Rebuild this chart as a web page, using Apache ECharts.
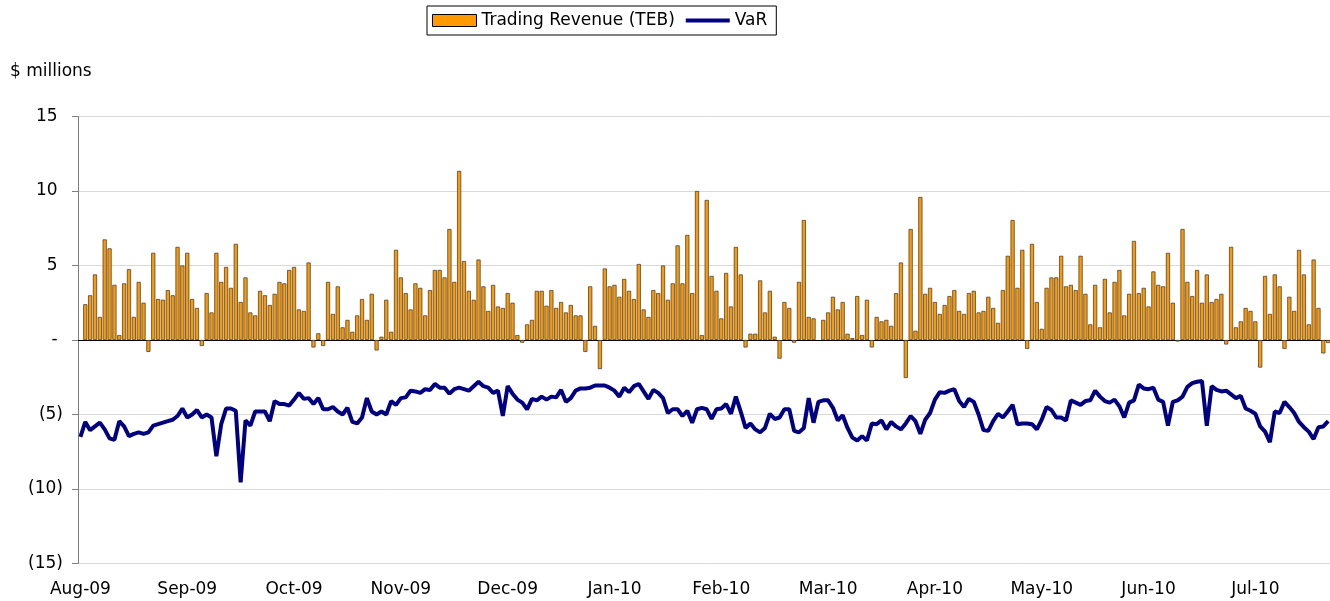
<!DOCTYPE html>
<html>
<head>
<meta charset="utf-8">
<title>Trading Revenue vs VaR</title>
<script src="https://cdn.jsdelivr.net/npm/echarts@6.0.0/dist/echarts.min.js"></script>
<style>
    html, body { margin: 0; padding: 0; background: #fff; }
    #chart { width: 1330px; height: 601px; }
</style>
</head>
<body>
<div id="chart"></div>
<script>
// month labels, one every 22 trading days
var monthLabels = ['Aug-09', 'Sep-09', 'Oct-09', 'Nov-09', 'Dec-09', 'Jan-10',
    'Feb-10', 'Mar-10', 'Apr-10', 'May-10', 'Jun-10', 'Jul-10'];

// daily trading revenue (TEB), $ millions
var revenue = [
    null, 2.4, 3.0, 4.4, 1.55, 6.75, 6.15, 3.7, 0.33, 3.8,
    4.75, 1.55, 3.9, 2.5, -0.8, 5.85, 2.75, 2.7, 3.35, 3.0,
    6.25, 5.0, 5.85, 2.75, 2.15, -0.4, 3.15, 1.85, 5.85, 3.9,
    4.9, 3.5, 6.45, 2.55, 4.2, 1.85, 1.65, 3.3, 3.0, 2.35,
    3.1, 3.9, 3.8, 4.7, 4.9, 2.05, 1.95, 5.2, -0.5, 0.45,
    -0.4, 3.9, 1.75, 3.6, 0.85, 1.35, 0.55, 1.65, 2.75, 1.35,
    3.1, -0.7, 0.22, 2.7, 0.55, 6.05, 4.2, 3.15, 2.05, 3.8,
    3.5, 1.65, 3.35, 4.7, 4.7, 4.2, 7.45, 3.9, 11.35, 5.3,
    3.3, 2.7, 5.4, 3.6, 1.95, 3.7, 2.25, 2.15, 3.15, 2.5,
    0.33, -0.18, 1.05, 1.35, 3.3, 3.3, 2.3, 3.35, 2.15, 2.55,
    1.85, 2.35, 1.65, 1.65, -0.8, 3.6, 0.95, -1.95, 4.8, 3.6,
    3.7, 2.9, 4.1, 3.3, 2.75, 5.1, 2.05, 1.55, 3.35, 3.15,
    5.0, 2.7, 3.8, 6.35, 3.8, 7.05, 3.15, 10.0, 0.33, 9.4,
    4.3, 3.3, 1.45, 4.5, 2.25, 6.25, 4.4, -0.5, 0.42, 0.42,
    4.0, 1.85, 3.3, 0.22, -1.25, 2.55, 2.15, -0.18, 3.9, 8.05,
    1.55, 1.45, null, 1.35, 1.85, 2.9, 2.05, 2.55, 0.42, 0.13,
    2.95, 0.33, 2.7, -0.5, 1.55, 1.25, 1.35, 0.95, 3.15, 5.2,
    -2.55, 7.45, 0.62, 9.6, 3.1, 3.5, 2.55, 1.75, 2.35, 2.95,
    3.35, 1.95, 1.75, 3.15, 3.3, 1.85, 1.95, 2.9, 2.15, 1.15,
    3.35, 5.65, 8.05, 3.5, 6.05, -0.6, 6.45, 2.55, 0.75, 3.5,
    4.2, 4.2, 5.65, 3.6, 3.7, 3.35, 5.65, 3.1, 1.05, 3.7,
    0.85, 4.1, 1.85, 3.9, 4.7, 1.65, 3.1, 6.65, 3.15, 3.5,
    2.25, 4.6, 3.7, 3.6, 5.85, 2.5, -0.1, 7.45, 3.9, 2.95,
    4.7, 2.5, 4.4, 2.55, 2.75, 3.1, -0.3, 6.25, 0.85, 1.25,
    2.15, 1.95, 1.25, -1.85, 4.3, 1.75, 4.4, 3.6, -0.6, 2.9,
    1.95, 6.05, 4.4, 1.05, 5.4, 2.15, -0.9, -0.2
];

// daily VaR, $ millions
var varValues = [
    -6.5, -5.5, -6.05, -5.8, -5.55, -6.0, -6.6, -6.7, -5.45, -5.8,
    -6.45, -6.3, -6.2, -6.3, -6.2, -5.75, -5.65, -5.55, -5.45, -5.35,
    -5.1, -4.6, -5.2, -5.0, -4.7, -5.2, -5.0, -5.2, -7.8, -5.65,
    -4.6, -4.6, -4.75, -9.55, -5.4, -5.75, -4.8, -4.8, -4.8, -5.45,
    -4.1, -4.3, -4.3, -4.4, -4.0, -3.55, -3.95, -3.9, -4.3, -3.9,
    -4.65, -4.65, -4.5, -4.8, -5.0, -4.55, -5.5, -5.6, -5.2, -3.9,
    -4.8, -5.0, -4.8, -5.0, -4.1, -4.35, -3.9, -3.85, -3.4, -3.45,
    -3.55, -3.3, -3.35, -2.95, -3.2, -3.2, -3.6, -3.3, -3.2, -3.3,
    -3.4, -3.1, -2.8, -3.1, -3.2, -3.55, -3.4, -5.1, -3.1, -3.6,
    -4.0, -4.2, -4.65, -3.95, -4.05, -3.8, -4.0, -3.8, -3.85, -3.35,
    -4.15, -3.9, -3.4, -3.25, -3.25, -3.2, -3.05, -3.05, -3.05, -3.2,
    -3.4, -3.8, -3.2, -3.5, -3.1, -2.95, -3.45, -3.95, -3.35, -3.55,
    -3.9, -4.9, -4.65, -4.65, -5.1, -4.75, -5.55, -4.65, -4.55, -4.65,
    -5.3, -4.65, -4.6, -4.3, -4.95, -3.8, -4.8, -5.9, -5.6, -6.0,
    -6.2, -5.9, -4.95, -5.3, -5.2, -4.65, -4.65, -6.1, -6.2, -5.9,
    -3.9, -5.55, -4.15, -4.05, -4.05, -4.55, -5.4, -5.05, -5.9, -6.55,
    -6.75, -6.45, -6.75, -5.6, -5.65, -5.4, -6.0, -5.5, -5.8, -6.0,
    -5.6, -5.1, -5.45, -6.3, -5.35, -4.9, -4.0, -3.5, -3.55, -3.4,
    -3.3, -4.1, -4.5, -3.95, -4.15, -5.0, -6.05, -6.1, -5.45, -4.95,
    -5.2, -4.8, -4.35, -5.65, -5.6, -5.6, -5.65, -6.0, -5.35, -4.5,
    -4.7, -5.2, -5.2, -5.4, -4.05, -4.2, -4.35, -4.1, -4.05, -3.4,
    -3.8, -4.1, -4.2, -4.0, -4.45, -5.2, -4.2, -4.05, -3.0, -3.25,
    -3.3, -3.2, -4.0, -4.15, -5.75, -4.15, -4.05, -3.8, -3.15, -2.9,
    -2.8, -2.75, -5.75, -3.1, -3.35, -3.45, -3.4, -3.65, -3.9, -3.75,
    -4.6, -4.75, -4.95, -5.8, -6.15, -6.85, -4.8, -4.9, -4.15, -4.5,
    -4.9, -5.5, -5.85, -6.15, -6.65, -5.85, -5.8, -5.45
];

window.onload = function () {
    var font = "'DejaVu Sans', Verdana, sans-serif";
    var days = revenue.map(function (v, i) { return 'd' + i; });

    var option = {
        animation: false,
        textStyle: { fontFamily: font, color: '#000' },
        title: {
            text: '$ millions',
            left: 10,
            top: 63,
            padding: 0,
            textStyle: { fontSize: 17, fontWeight: 'normal', color: '#000', fontFamily: font }
        },
        legend: {
            left: 427,
            top: 6,
            padding: [6, 9, 6, 5],
            itemGap: 9,
            itemWidth: 44,
            itemHeight: 12,
            borderColor: '#000',
            borderWidth: 1,
            borderRadius: 0,
            textStyle: { fontSize: 17, color: '#000', fontFamily: font },
            lineStyle: { width: 4 },
            data: [
                { name: 'Trading Revenue (TEB)', icon: 'rect', itemStyle: { borderColor: '#000', borderWidth: 1 } },
                { name: 'VaR', itemStyle: { opacity: 0 } }
            ]
        },
        grid: {
            left: 78,
            top: 116.5,
            width: 1252.6,
            height: 447,
            containLabel: false,
            outerBoundsMode: 'none'
        },
        xAxis: [{
            // zero line with a tick every 10 days
            type: 'category',
            data: days,
            position: 'top',
            axisLine: { onZero: true, lineStyle: { color: '#000', width: 1 } },
            axisTick: { inside: true, interval: 9, length: 4, lineStyle: { color: '#000' } },
            axisLabel: { show: false },
            splitLine: { show: false }
        }, {
            // month labels along the bottom
            type: 'category',
            data: days,
            position: 'bottom',
            axisLine: { show: false },
            axisTick: { show: false },
            splitLine: { show: false },
            axisLabel: {
                interval: 21,
                margin: 18,
                fontSize: 17,
                color: '#000',
                fontFamily: font,
                formatter: function (v, i) { return monthLabels[i / 22] || ''; }
            }
        }],
        yAxis: {
            type: 'value',
            min: -15,
            max: 15,
            interval: 5,
            axisLine: { show: true, lineStyle: { color: '#808080' } },
            axisTick: { show: true, length: 6, lineStyle: { color: '#808080' } },
            splitLine: { show: true, lineStyle: { color: '#d9d9d9' } },
            axisLabel: {
                margin: 15,
                fontSize: 17,
                color: '#000',
                fontFamily: font,
                formatter: function (v) {
                    if (v > 0) return v + ' ';
                    if (v === 0) return '- ';
                    return '(' + (-v) + ')';
                }
            }
        },
        series: [{
            name: 'Trading Revenue (TEB)',
            type: 'bar',
            xAxisIndex: 0,
            data: revenue,
            barWidth: 4.1,
            itemStyle: { color: '#ff9900', borderColor: '#333', borderWidth: 0.7 }
        }, {
            name: 'VaR',
            type: 'line',
            xAxisIndex: 0,
            data: varValues,
            symbol: 'none',
            z: 3,
            itemStyle: { color: '#000080' },
            lineStyle: { color: '#000080', width: 4 }
        }]
    };

    var chart = echarts.init(document.getElementById('chart'));
    chart.setOption(option);
};
</script>
</body>
</html>
